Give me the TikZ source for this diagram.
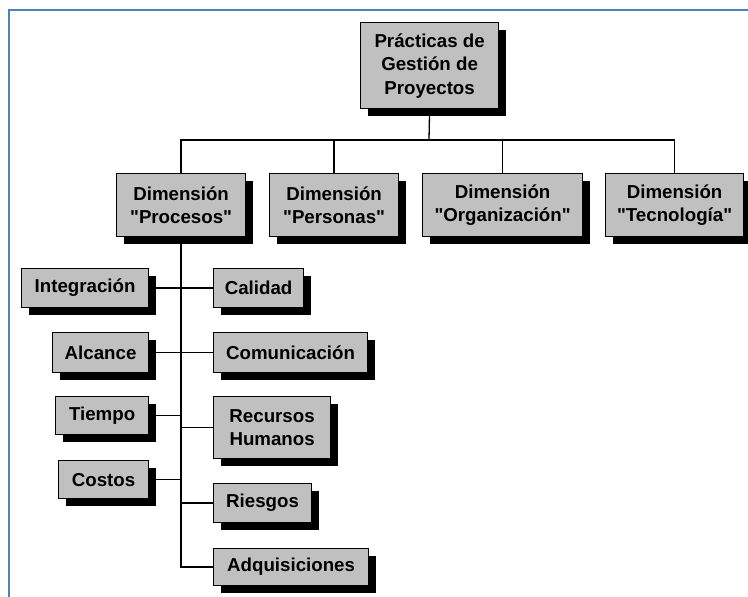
\documentclass[tikz,border=0pt]{standalone}
\usepackage{fontspec}
\setmainfont{Liberation Sans}[Ligatures=TeXOff]
\usetikzlibrary{shadows}
\definecolor{frameblue}{HTML}{4F81BD}
\definecolor{boxgray}{HTML}{C0C0C0}
\tikzset{
  box/.style={draw=black, line width=1.2pt, fill=boxgray, inner sep=0pt, anchor=north west,
    align=center, font=\fontsize{18.7}{23.5}\selectfont\bfseries,
    drop shadow={shadow xshift=7pt, shadow yshift=-7pt, fill=black, opacity=1}},
  conn/.style={draw=black, line width=1.3pt},
  frame/.style={draw=frameblue, line width=2pt}
}
\newcommand{\bx}[7]{\node[box, minimum width=#4pt-#2pt, minimum height=#5pt-#3pt] (#1) at (#2,#3) {#6};}
\begin{document}
\begin{tikzpicture}[x=1pt,y=-1pt]
\useasboundingbox (0,0) rectangle (748,597);
\draw[frame] (9,597) -- (9,10) -- (748,10);
% boxes: name, x1, y1, x2, y2, text
\bx{top}{360}{22}{498}{108}{Prácticas de\\Gestión de\\Proyectos}{}
\bx{proc}{116}{173}{245}{236}{Dimensión\\"Procesos"}{}
\bx{pers}{269}{173}{398}{236}{Dimensión\\"Personas"}{}
\bx{org}{422}{173}{582}{236}{Dimensión\\"Organización"}{}
\bx{tec}{605}{173}{743}{236}{Dimensión\\"Tecnología"}{}
\bx{integ}{21}{268}{148}{307}{Integración}{}
\bx{cal}{213}{268}{303}{307}{Calidad}{}
\bx{alc}{52}{332}{148}{372}{Alcance}{}
\bx{com}{213}{332}{367}{372}{Comunicación}{}
\bx{tiem}{55}{396}{148}{434}{Tiempo}{}
\bx{rec}{213}{396}{330}{458}{Recursos\\Humanos}{}
\bx{cost}{58}{460}{148}{498}{Costos}{}
\bx{ries}{213}{483}{311}{522}{Riesgos}{}
\bx{adq}{213}{548}{368}{585}{Adquisiciones}{}
\coordinate (bus) at (429,140);
\draw[conn] (top.south) -- (bus);
\draw[conn] (bus) -| (proc.north);
\draw[conn] (bus) -| (pers.north);
\draw[conn] (bus) -| (org.north);
\draw[conn] (bus) -| (tec.north);
\draw[conn] (proc.south) -- (proc.south |- adq.west) -- (adq.west);
\draw[conn] (integ.east) -- (cal.west);
\draw[conn] (alc.east) -- (com.west);
\draw[conn] (tiem.east) -- (tiem.east -| proc.south);
\draw[conn] (cost.east) -- (cost.east -| proc.south);
\draw[conn] (rec.west) -- (rec.west -| proc.south);
\draw[conn] (ries.west) -- (ries.west -| proc.south);
\end{tikzpicture}
\end{document}
